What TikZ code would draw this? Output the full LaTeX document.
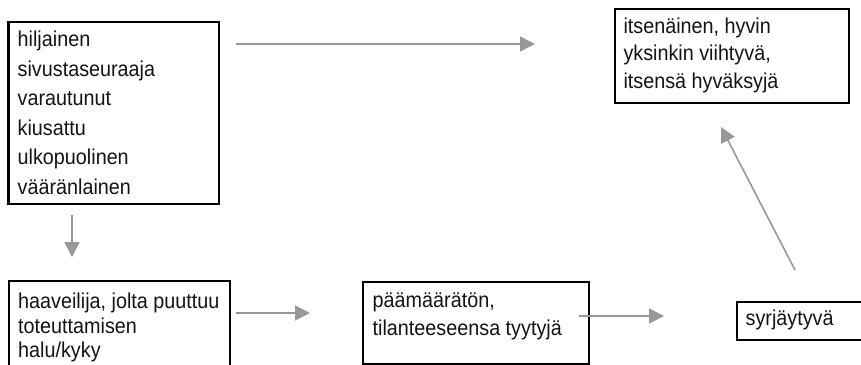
\documentclass[tikz,border=0pt]{standalone}
\usepackage{fontspec}
\setmainfont{Liberation Sans}[FakeStretch=0.92]
\usetikzlibrary{arrows.meta}
\definecolor{arrgray}{RGB}{152,152,152}
\begin{document}
\begin{tikzpicture}[x=1pt,y=-1pt,
  boxnode/.style={draw=black,line width=2.4pt,rectangle,inner sep=0pt,anchor=north west},
  txtnode/.style={inner sep=0pt,anchor=north west,align=left,text=black!92},
  conn/.style={draw=arrgray,line width=1.6pt,-{Triangle[length=15pt,width=15pt]}}
]
\clip (0,0) rectangle (861,364);
\fill[white] (0,0) rectangle (861,364);
% boxes
\node[boxnode,minimum width=210.7pt,minimum height=182.3pt] (b1) at (7.3,20.7) {};
\node[boxnode,minimum width=234pt,minimum height=93.7pt] (b2) at (614,8) {};
\node[boxnode,minimum width=220.5pt,minimum height=90pt] (b3) at (8,280) {};
\node[boxnode,minimum width=226pt,minimum height=82pt] (b4) at (362,281) {};
\node[boxnode,minimum width=135pt,minimum height=38pt] (b5) at (735.7,301) {};
% texts (first baseline = y + 17)
\node[txtnode,font=\fontsize{21.5}{29.5}\selectfont] (t1) at (17.5,29.7)
 {\rule{0pt}{17pt}hiljainen\\sivustaseuraaja\\varautunut\\kiusattu\\ulkopuolinen\\vääränlainen};
\node[txtnode,font=\fontsize{21.5}{27.5}\selectfont] (t2) at (623.3,16)
 {\rule{0pt}{17pt}itsenäinen, hyvin\\yksinkin viihtyvä,\\itsensä hyväksyjä};
\node[txtnode,font=\fontsize{21.5}{24.5}\selectfont] (t3) at (18,291.5)
 {\rule{0pt}{17pt}haaveilija, jolta puuttuu\\toteuttamisen\\halu/kyky};
\node[txtnode,font=\fontsize{21.5}{28}\selectfont] (t4) at (372.5,290)
 {\rule{0pt}{17pt}päämäärätön,\\tilanteeseensa tyytyjä};
\node[txtnode,font=\fontsize{21.5}{25}\selectfont] (t5) at (745.5,308)
 {\rule{0pt}{17pt}syrjäytyvä};
% connector end points
\coordinate (a1s) at (236,44);  \coordinate (a1e) at (535,44);
\coordinate (a2s) at (72,215);  \coordinate (a2e) at (72,257);
\coordinate (a3s) at (236,313); \coordinate (a3e) at (310,313);
\coordinate (a4s) at (579,316); \coordinate (a4e) at (664,316);
\coordinate (a5s) at (795,270); \coordinate (a5e) at (721,127);
\draw[conn] (a1s) -- (a1e);
\draw[conn] (a2s) -- (a2e);
\draw[conn] (a3s) -- (a3e);
\draw[conn] (a4s) -- (a4e);
\draw[conn] (a5s) -- (a5e);
\end{tikzpicture}
\end{document}
